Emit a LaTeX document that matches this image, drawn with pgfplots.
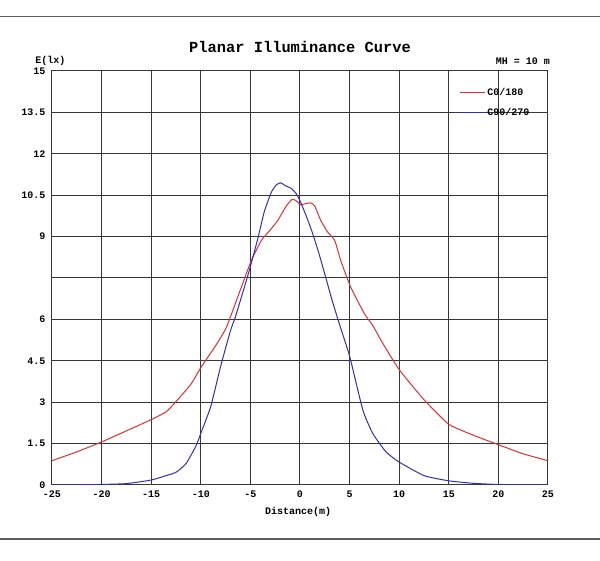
\documentclass[border=0pt]{standalone}
\usepackage{fontspec}
\setmainfont{Liberation Mono}
\usepackage{pgfplots}
\pgfplotsset{compat=1.18}

\definecolor{curvered}{RGB}{228,45,45}
\definecolor{curveblue}{RGB}{45,45,200}
\definecolor{gridgray}{RGB}{55,55,55}
\definecolor{framegray}{RGB}{95,95,95}

\newcommand{\smallbold}{\bfseries\fontsize{10}{12}\selectfont}
% short legend lines, set outside the axis options
\pgfplotsset{legend image code/.code={\draw[#1] (0pt,0pt) -- (25pt,0pt);}}

\begin{document}
\begin{tikzpicture}[x=1pt,y=1pt]
\path[use as bounding box] (-52,-76) rectangle (548,485);
% frame lines of the sheet
\draw[framegray, line width=1.3pt] (-52,468.5) -- (548,468.5);
\draw[framegray, line width=1.3pt] (-52,-54) -- (548,-54);

\begin{axis}[
	at={(0,0)}, anchor=south west,
	scale only axis, width=496pt, height=414pt,
	xmin=-25, xmax=25, ymin=0, ymax=15,
	xtick={-25,-20,-15,-10,-5,0,5,10,15,20,25},
	xticklabels={-25,-20,-15,-10,-5,0,5,10,15,20,25},
	ytick={0,1.5,3,4.5,6,7.5,9,10.5,12,13.5,15},
	yticklabels={0,1.5,3,4.5,6,,9,10.5,12,13.5,15},
	grid=major,
	major grid style={gridgray, line width=1pt},
	axis line style={gridgray, line width=1pt},
	major tick length=0pt,
	tick label style={font=\smallbold},
	xticklabel style={yshift=-2pt},
	yticklabel style={xshift=-3pt},
	xlabel={Distance(m)},
	xlabel style={font=\smallbold, at={(axis description cs:0.496,0)}, anchor=center, yshift=-27pt},
	legend style={draw=none, fill=none, at={(0.815,0.968)}, anchor=north west,
		font=\smallbold, row sep=7pt},
	legend cell align=left,
]
% C0/180
\addplot[color=curvered, line width=1pt, smooth, tension=0.3] coordinates {
	(-25,0.88) (-22.5,1.2) (-20,1.56) (-17.5,1.96) (-15,2.37) (-13.5,2.65)
	(-12.5,3.02) (-11,3.65) (-10,4.25) (-8.5,5.05) (-7.5,5.65) (-6.9,6.2)
	(-5.9,7.18) (-4.9,8.14) (-3.9,8.86) (-3.1,9.2) (-2.25,9.58) (-1.4,10.1)
	(-0.8,10.35) (-0.4,10.3) (0.1,10.15) (0.6,10.2) (1.1,10.22) (1.5,10.1)
	(2.1,9.58) (2.8,9.16) (3.5,8.86) (4.1,8.14) (5.1,7.18) (6.5,6.2)
	(7.3,5.8) (8.3,5.16) (10,4.18) (12.5,3.09) (15,2.2) (17.5,1.8)
	(20,1.46) (22.5,1.13) (25,0.88)
};
% C90/270
\addplot[color=curveblue, line width=1pt, smooth, tension=0.3] coordinates {
	(-25,0) (-22.5,0.01) (-20,0.02) (-17.5,0.05) (-15,0.18) (-13.5,0.34)
	(-12.5,0.46) (-11.5,0.77) (-10.5,1.4) (-10,1.87) (-9,2.84) (-8,4.3)
	(-7,5.6) (-6.5,6.1) (-6.2,6.46) (-5.2,7.66) (-4.3,8.86) (-3.6,9.9)
	(-2.9,10.6) (-2.4,10.87) (-1.95,10.95) (-1.5,10.85) (-0.9,10.75)
	(-0.37,10.55) (0,10.3) (0.57,9.8) (1.23,9.16) (1.9,8.4) (2.57,7.55)
	(3.23,6.7) (4,5.8) (5,4.67) (6.33,2.72) (7.33,1.87) (8.67,1.2)
	(10,0.83) (12.5,0.34) (15,0.15) (17.5,0.06) (20,0.02) (25,0)
};
\legend{C0/180, C90/270}
\end{axis}

\node[font=\bfseries\fontsize{15.4}{18}\selectfont, inner sep=0] at (248,438) {Planar Illuminance Curve};
\node[font=\smallbold, inner sep=0] at (-1.5,424) {E(lx)};
\node[font=\smallbold, inner sep=0, anchor=east] at (498,424) {MH = 10 m};
\end{tikzpicture}
\end{document}
